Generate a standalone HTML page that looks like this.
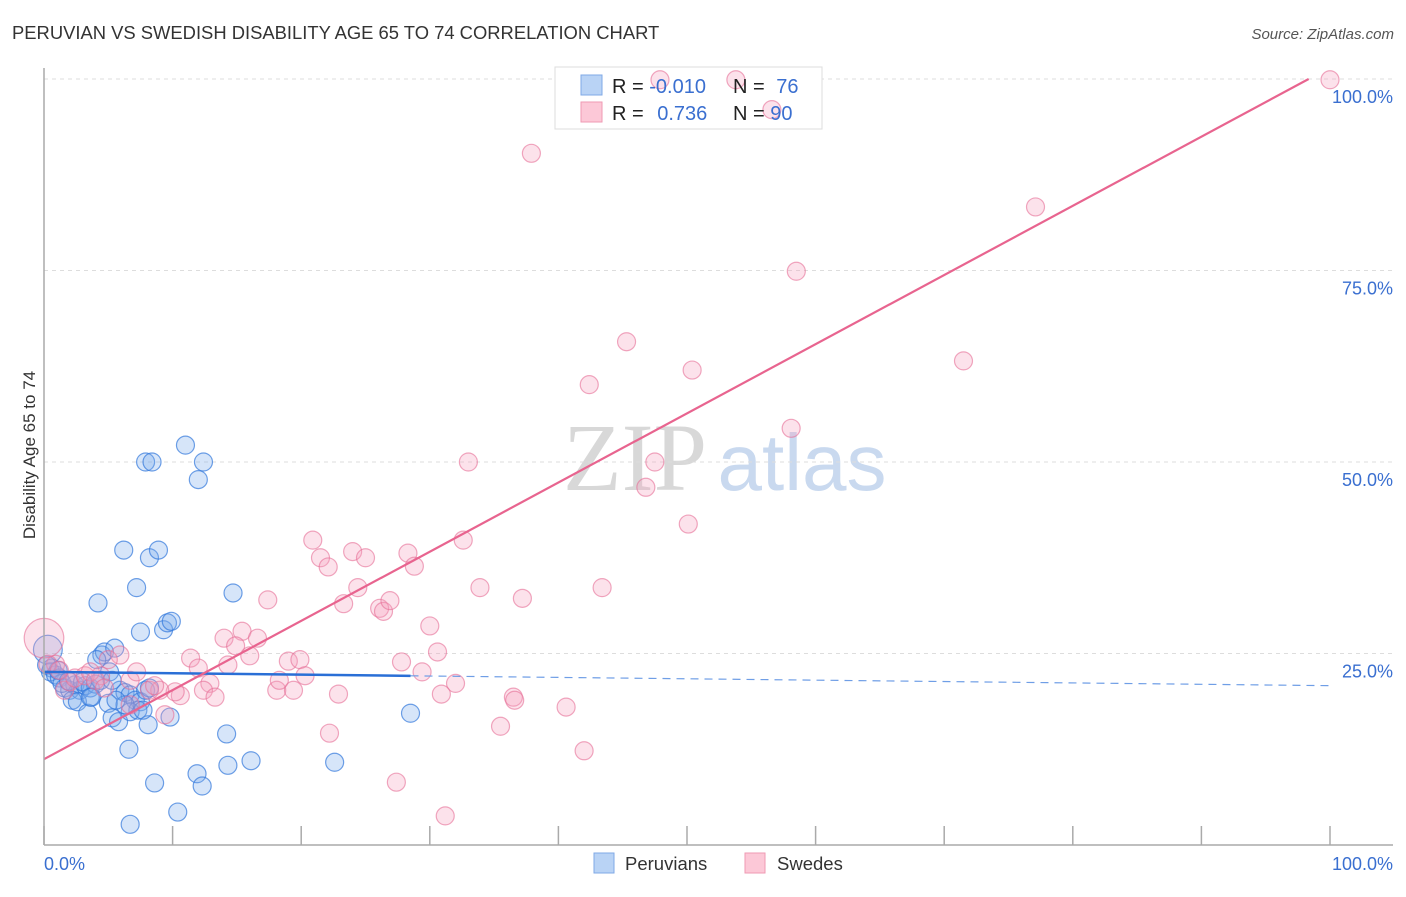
<!DOCTYPE html>
<html><head><meta charset="utf-8"><style>
body{margin:0;background:#fff;font-family:"Liberation Sans",sans-serif}
svg text{font-family:"Liberation Sans",sans-serif}
</style></head><body>
<svg width="1406" height="892" id="c">
<text x="12" y="39" font-size="18.4" fill="#333">PERUVIAN VS SWEDISH DISABILITY AGE 65 TO 74 CORRELATION CHART</text>
<text x="1394" y="39" font-size="15" fill="#555" text-anchor="end" font-style="italic">Source: ZipAtlas.com</text>
<text x="635" y="490" font-size="96" fill="#d8d8d8" text-anchor="middle" font-family="Liberation Serif" style="font-family:'Liberation Serif',serif">ZIP</text>
<text x="802" y="490" font-size="80" fill="#c9d9ef" text-anchor="middle">atlas</text>
<g id="grid"></g>
<rect x="555" y="67" width="267" height="62" fill="#fff" stroke="#ddd"/>
<g id="pts"></g><g id="lines"></g><g id="axes"></g>
<text x="35" y="455" font-size="17" fill="#333" text-anchor="middle" transform="rotate(-90 35 455)">Disability Age 65 to 74</text>
<text x="44" y="870" font-size="18" fill="#3a6fd0">0.0%</text>
<text x="1393" y="870" font-size="18" fill="#3a6fd0" text-anchor="end">100.0%</text>
<g>
<rect x="581" y="75" width="21" height="20" fill="#b9d3f5" stroke="#7fa8e6"/>
<rect x="581" y="102" width="21" height="20" fill="#fcc8d7" stroke="#ef9ab3"/>
<text x="612" y="93" font-size="20" fill="#222">R = <tspan fill="#3a6fd0">-0.010</tspan></text>
<text x="733" y="93" font-size="20" fill="#222">N = <tspan fill="#3a6fd0" dx="6">76</tspan></text>
<text x="612" y="120" font-size="20" fill="#222">R = <tspan fill="#3a6fd0" dx="8">0.736</tspan></text>
<text x="733" y="120" font-size="20" fill="#222">N = <tspan fill="#3a6fd0">90</tspan></text>
</g>
<g>
<rect x="594" y="853" width="20" height="20" fill="#b9d3f5" stroke="#7fa8e6"/>
<text x="625" y="870" font-size="18.5" fill="#333">Peruvians</text>
<rect x="745" y="853" width="20" height="20" fill="#fcc8d7" stroke="#ef9ab3"/>
<text x="777" y="870" font-size="18.5" fill="#333">Swedes</text>
</g>
</svg>
<script>
const blueX=[0.3,0.6,0.5,0.9,1.2,1.6,2.0,2.4,2.8,3.2,3.6,4.0,2.2,2.6,3.4,3.7,4.4,4.5,4.7,5.5,5.1,5.9,6.3,6.7,7.1,7.5,7.9,8.2,5.0,5.3,5.8,6.7,7.3,8.1,6.3,5.6,4.2,6.2,8.2,8.9,7.2,7.9,8.4,11.0,12.0,12.4,7.5,9.3,9.6,9.9,14.7,9.8,6.6,8.6,11.9,12.3,10.4,6.7,14.2,14.3,16.1,22.6,28.5,5.3,1.4,1.1,1.9,3.0,3.6,4.1,0.2,7.7];
const blueY=[25.5,23.1,22.6,22.2,21.8,20.5,20.2,20.9,20.2,20.8,20.5,21.0,18.9,18.7,17.2,19.3,21.5,24.8,25.2,25.7,22.6,20.2,19.9,19.6,18.9,18.7,20.2,20.5,18.5,16.6,16.1,17.4,17.6,15.7,18.3,18.9,31.6,38.5,37.5,38.5,33.6,50.0,50.0,52.2,47.7,50.0,27.8,28.1,29.0,29.2,32.9,16.7,12.5,8.1,9.3,7.7,4.3,2.7,14.5,10.4,11.0,10.8,17.2,21.5,21.1,22.8,21.4,21.3,19.3,24.2,23.5,17.6];
const pinkX=[100,47.9,53.8,56.6,37.9,77.1,58.5,45.3,42.4,50.4,71.5,58.1,33.0,47.5,46.8,50.1,20.9,21.5,22.1,24.0,25.0,28.3,28.8,32.6,24.4,26.1,26.4,26.9,23.3,17.4,33.9,37.2,43.4,30.0,30.6,14.0,15.4,14.9,16.6,16.0,14.3,11.4,12.0,12.9,12.4,13.3,10.6,10.2,9.0,9.4,6.7,7.2,5.9,5.0,4.4,6.7,18.1,18.3,19.4,19.0,19.9,20.3,22.9,27.8,29.4,32.0,30.9,36.5,36.6,40.6,35.5,22.2,42.0,27.4,31.2,1.6,2.0,2.4,3.2,0.9,3.6,0.3,1.2,4.0,8.2,8.6,4.7,0];
const pinkY=[99.9,99.9,99.9,96.0,90.3,83.3,74.9,65.7,60.1,62.0,63.2,54.4,50.0,50.0,46.7,41.9,39.8,37.5,36.3,38.3,37.5,38.1,36.4,39.8,33.6,30.9,30.5,31.9,31.5,32.0,33.6,32.2,33.6,28.6,25.2,27.0,27.9,26.0,27.0,24.7,23.5,24.4,23.1,21.1,20.2,19.3,19.5,20.0,20.2,17.0,21.5,22.6,24.8,24.2,22.1,18.3,20.2,21.5,20.2,24.0,24.2,22.1,19.7,23.9,22.6,21.1,19.7,19.3,18.9,18.0,15.5,14.6,12.3,8.2,3.8,20.2,21.3,21.8,22.1,23.6,22.6,23.6,22.8,21.5,20.2,20.8,20.5,27.0];
const blueW=[];blueW[0]=1.6;
const pinkW=[];pinkW[87]=2.2;
const xTicks=[0,10,20,30,40,50,60,70,80,90,100];
const yTicks=[25,50,75,100];
const yTickLabels=["25.0%","50.0%","75.0%","100.0%"];
const blueFit=[22.6,20.8];const pinkFit=[11.2,101.5];
const X=v=>44+v*12.86, Y=v=>845-v*7.66;
const NS="http://www.w3.org/2000/svg";
function mk(t,a,p){const e=document.createElementNS(NS,t);for(const k in a)e.setAttribute(k,a[k]);p.appendChild(e);return e;}
const grid=document.getElementById('grid'),pts=document.getElementById('pts'),lines=document.getElementById('lines'),axes=document.getElementById('axes');
yTicks.forEach((t,i)=>{
 const l=mk('line',{x1:44,x2:1393,y1:Y(t),y2:Y(t),stroke:'#ddd','stroke-dasharray':'4,4'},grid);
 
 
 const tx=mk('text',{x:1393,y:Y(t)+24,'font-size':18,fill:'#3a6fd0','text-anchor':'end'},axes);
 tx.textContent=yTickLabels[i];
 
 
});
mk('line',{x1:44,x2:44,y1:68,y2:845,stroke:'#aaa','stroke-width':1.5},axes);
mk('line',{x1:44,x2:1393,y1:845,y2:845,stroke:'#aaa','stroke-width':1.5},axes);
xTicks.forEach(t=>{const l=mk('line',{x1:X(t),x2:X(t),y1:826,y2:845,stroke:'#aaa','stroke-width':1.5},axes);
 
 });
blueX.forEach((v,i)=>{const c=mk('circle',{cx:X(v),cy:Y(blueY[i]),r:9*(blueW[i]||1),fill:'rgba(120,170,235,0.3)',stroke:'rgba(50,120,220,0.7)','stroke-width':1.2},pts);
 
 });
pinkX.forEach((v,i)=>{const c=mk('circle',{cx:X(v),cy:Y(pinkY[i]),r:9*(pinkW[i]||1),fill:'rgba(245,160,190,0.3)',stroke:'rgba(230,110,150,0.6)','stroke-width':1.2},pts);
 
 });
const by=x=>blueFit[0]+(blueFit[1]-blueFit[0])*x/100;
let l=mk('line',{x1:X(0),y1:Y(by(0)),x2:X(28.5),y2:Y(by(28.5)),stroke:'#2a6fd6','stroke-width':2.5},lines);


l=mk('line',{x1:X(28.5),y1:Y(by(28.5)),x2:X(100),y2:Y(by(100)),stroke:'#6f9ee6','stroke-width':1.2,'stroke-dasharray':'8,6'},lines);


const py=x=>pinkFit[0]+(pinkFit[1]-pinkFit[0])*x/100;
const pe=(100-pinkFit[0])/(pinkFit[1]-pinkFit[0])*100;
l=mk('line',{x1:X(0),y1:Y(py(0)),x2:X(Math.min(pe,100)),y2:Y(py(Math.min(pe,100))),stroke:'#e8648f','stroke-width':2.2},lines);


</script>
</body></html>
